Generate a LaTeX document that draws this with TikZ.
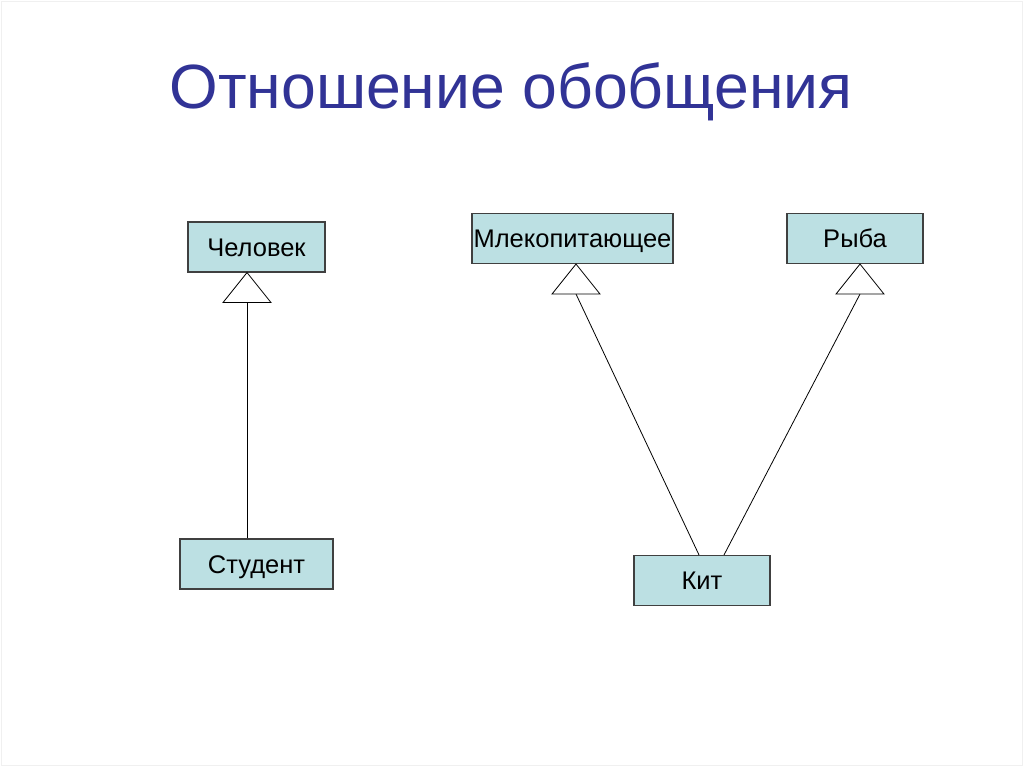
\documentclass[tikz,border=0pt]{standalone}
\usepackage{fontspec}
\setmainfont{Liberation Sans}
\usetikzlibrary{calc}
\begin{document}
\begin{tikzpicture}[x=1pt,y=-1pt,
  cls/.style={draw=black!75, line width=1.1pt, fill=boxfill, minimum height=50pt, inner sep=0pt, text height=18.3pt, text depth=0pt, font=\fontsize{25.5}{28}\selectfont, text=black},
  gentri/.style={draw=black, line width=0.8pt, fill=white},
  link/.style={draw=black, line width=0.8pt}]
\definecolor{boxfill}{HTML}{BCE0E3}
\definecolor{titleblue}{HTML}{313396}
\useasboundingbox (0,0) rectangle (1024,767);
\fill[white] (0,0) rectangle (1024,767);
\draw[black!6, line width=1pt] (1.5,1.5) rectangle (1022.5,765.5);
\node[font=\fontsize{62.5}{68}\selectfont, text=titleblue, anchor=base, inner sep=0pt] (title) at (511,109) {Отношение обобщения};
% boxes
\node[cls, minimum width=137pt] (chel) at (256.5,247) {Человек};
\node[cls, minimum width=153pt] (stud) at (256.5,564) {Студент};
\node[cls, minimum width=201pt] (mlek) at (572.5,238.5) {Млекопитающее};
\node[cls, minimum width=136pt] (ryba) at (855,238.5) {Рыба};
\node[cls, minimum width=136pt] (kit) at (702,580.5) {Кит};
% triangle apexes and base midpoints
\coordinate (a1) at (chel.south -| 247,0);
\coordinate (a2) at (mlek.south -| 576,0);
\coordinate (a3) at (ryba.south -| 860,0);
\coordinate (b1) at ($(a1)+(0,30)$);
\coordinate (b2) at ($(a2)+(0,30)$);
\coordinate (b3) at ($(a3)+(0,30)$);
% generalization lines
\draw[link] (stud.north -| 247,0) -- (b1);
\draw[link] (kit.north -| 699,0) -- (b2);
\draw[link] (kit.north -| 724,0) -- (b3);
% triangles
\foreach \a in {a1,a2,a3}
  \draw[gentri] (\a) -- ++(-24,30) -- ++(48,0) -- cycle;
\end{tikzpicture}
\end{document}
